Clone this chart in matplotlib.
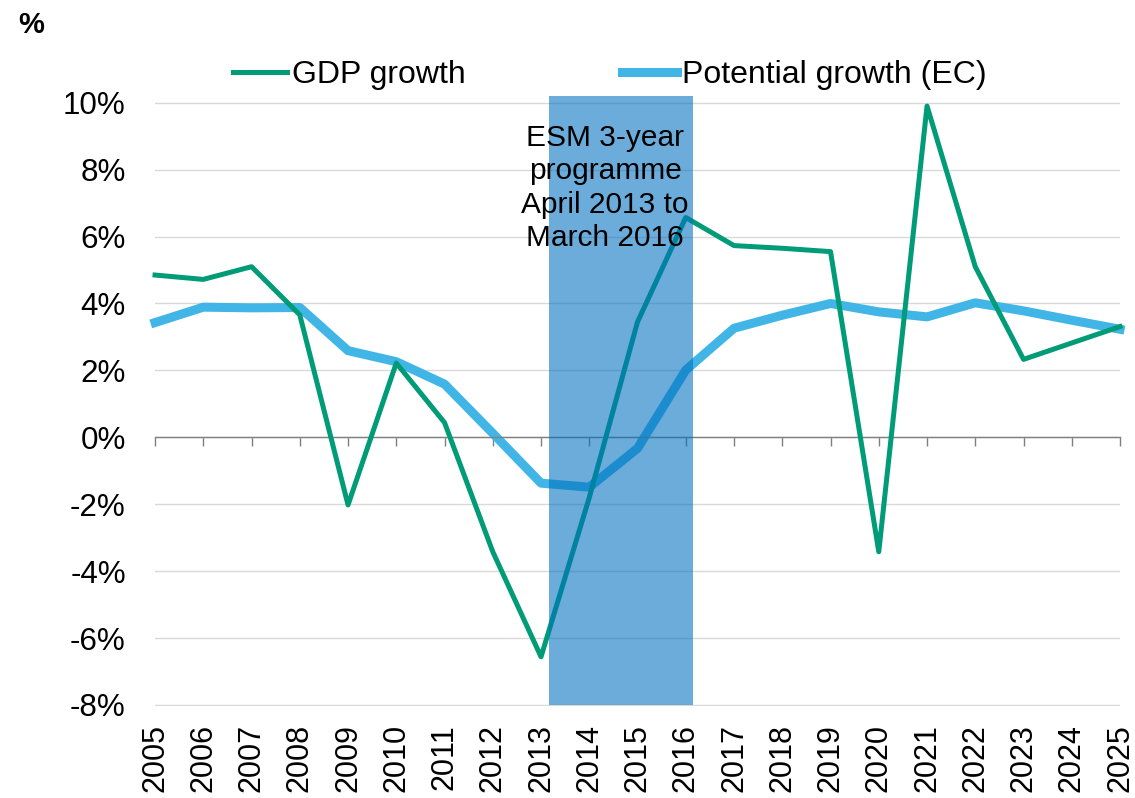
import matplotlib
matplotlib.use("Agg")
import matplotlib.pyplot as plt
from matplotlib.ticker import FuncFormatter

plt.rcParams.update({
    "font.family": ["Liberation Sans", "DejaVu Sans"],
    "font.size": 22,
})

years = list(range(2005, 2026))
gdp_growth = [4.85, 4.72, 5.10, 3.66, -2.02, 2.22, 0.44, -3.42, -6.56, -1.80,
              3.45, 6.57, 5.73, 5.65, 5.55, -3.42, 9.90, 5.10, 2.33, 2.82, 3.31]
potential_growth = [3.43, 3.89, 3.87, 3.88, 2.59, 2.26, 1.59, 0.12, -1.37, -1.49,
                    -0.33, 2.01, 3.26, 3.65, 4.00, 3.75, 3.60, 4.02, 3.78, 3.50, 3.23]

# ESM programme window, April 2013 to March 2016, on the year axis
esm_start, esm_end = 2013.17, 2016.14
esm_low, esm_high = -8.0, 10.2
esm_label = "ESM 3-year\nprogramme\nApril 2013 to\nMarch 2016"

GREEN = "#009B77"
BLUE = "#41B6E6"
SHADE = "#0070C0"

fig = plt.figure(figsize=(11.35, 7.98), dpi=100)
# y range -8.03..10.3 -> pixel 706..92.7
ax = fig.add_axes([0.1366, 1 - 706 / 798, 0.8502, (706 - 92.7) / 798])

ax.set_xlim(2005, 2025)
ax.set_ylim(-8.03, 10.3)
ax.set_yticks(range(-8, 11, 2))
ax.yaxis.set_major_formatter(FuncFormatter(lambda v, _: f"{v:.0f}%"))
ax.tick_params(axis="y", length=0, pad=21, labelsize=22.6)
ax.grid(axis="y", color="#d9d9d9", lw=1.0, zorder=0)
ax.set_axisbelow(True)

for side in ("left", "right", "top"):
    ax.spines[side].set_visible(False)
ax.spines["bottom"].set_position(("data", 0))
ax.spines["bottom"].set_color("#808080")
ax.spines["bottom"].set_linewidth(1.0)
ax.set_xticks(years)
ax.tick_params(axis="x", direction="out", length=6.5, width=1.0,
               color="#808080", labelbottom=False)

# year labels sit under the plot, not on the zero line
sec = ax.secondary_xaxis("bottom")
sec.set_xticks(years)
sec.set_xticklabels([str(y) for y in years], rotation=90, va="top")
sec.tick_params(length=0, pad=13)
sec.spines["bottom"].set_visible(False)

ax.plot(years, gdp_growth, color=GREEN, lw=3.6, label="GDP growth",
        solid_joinstyle="round", zorder=3, clip_on=False)
ax.plot(years, potential_growth, color=BLUE, lw=6.5, label="Potential growth (EC)",
        solid_joinstyle="round", zorder=2, clip_on=False)

ax.bar((esm_start + esm_end) / 2, esm_high - esm_low, bottom=esm_low,
       width=esm_end - esm_start, color=SHADE, alpha=0.58, lw=0, zorder=4,
       clip_on=False)
ax.text(2014.33, 7.45, esm_label, ha="center", va="center", fontsize=21.5,
        linespacing=1.25, zorder=5)

h, l = ax.get_legend_handles_labels()
fig.legend(h, l, loc="center", bbox_to_anchor=(0.537, 1 - 75 / 798), ncol=2,
           frameon=False, handlelength=1.7, handletextpad=0.16,
           columnspacing=4.9, fontsize=23)

fig.text(0.016, 1 - 25 / 798, "%", fontsize=21, fontweight="bold",
         ha="left", va="center")

fig.savefig("out.png", dpi=100)
